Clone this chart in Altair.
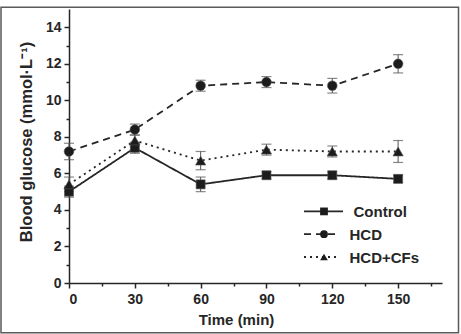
import altair as alt
import pandas as pd

# Sampling times (min) and blood glucose readings (mmol/L), mean and error
times = [0, 30, 60, 90, 120, 150]
series = ["Control", "HCD", "HCD+CFs"]
control = [5.0, 7.4, 5.4, 5.9, 5.9, 5.7]
control_err = [0.3, 0.3, 0.4, 0.2, 0.2, 0.2]
hcd = [7.2, 8.4, 10.8, 11.0, 10.8, 12.0]
hcd_err = [0.45, 0.3, 0.3, 0.3, 0.4, 0.5]
hcd_cfs = [5.4, 7.8, 6.7, 7.3, 7.2, 7.2]
hcd_cfs_err = [0.4, 0.3, 0.5, 0.3, 0.3, 0.6]

x_ticks = [0, 30, 60, 90, 120, 150]
x_minor = [15, 45, 75, 105, 135, 165]
y_ticks = [0, 2, 4, 6, 8, 10, 12, 14]
y_minor = [1, 3, 5, 7, 9, 11, 13]

dashes = [[1, 0], [7, 5], [2, 4]]
shapes = ["square", "circle", "triangle-up"]
sizes = [81, 105, 120]

FONT = "Liberation Sans"
INK = "#262626"
W, H = 373, 274

rows = []
for name, vals, errs in zip(series, [control, hcd, hcd_cfs],
                            [control_err, hcd_err, hcd_cfs_err]):
    for t, v, e in zip(times, vals, errs):
        rows.append({"time": t, "glucose": v, "err": e, "group": name})
df = pd.DataFrame(rows)

x_scale = alt.Scale(domain=[0, 170], nice=False, zero=False)
y_scale = alt.Scale(domain=[0, 15], nice=False)

axis_common = dict(
    domainColor=INK, domainWidth=1.5, tickColor=INK, tickWidth=1.5,
    labelFont=FONT, labelFontWeight="bold", labelFontSize=14, labelColor=INK,
    titleFont=FONT, titleFontWeight="bold", titleColor=INK,
    grid=False,
)

x_axis = alt.Axis(
    values=x_ticks, orient="bottom", tickSize=5, labelPadding=4,
    title="Time (min)", titleFontSize=15, titleX=167, titleY=41,
    titleAlign="center", titleBaseline="alphabetic", **axis_common,
)
y_axis = alt.Axis(
    values=y_ticks, orient="left", tickSize=5, labelPadding=3,
    title="Blood glucose (mmol·L⁻¹)", titleFontSize=16.5,
    titleX=-37.5, titleY=132.5,
    titleAngle=270, titleAlign="center", titleBaseline="alphabetic",
    **axis_common,
)
x_minor_axis = alt.Axis(
    values=x_minor, orient="bottom", tickSize=3, tickColor=INK, tickWidth=1.5,
    labels=False, domain=False, grid=False, title=None,
)
y_minor_axis = alt.Axis(
    values=y_minor, orient="left", tickSize=3, tickColor=INK, tickWidth=1.5,
    labels=False, domain=False, grid=False, title=None,
)

base = alt.Chart(df)

group_dash = alt.StrokeDash(
    "group:N", scale=alt.Scale(domain=series, range=dashes), legend=None
)
group_shape = alt.Shape(
    "group:N", scale=alt.Scale(domain=series, range=shapes), legend=None
)
group_size = alt.Size(
    "group:N", scale=alt.Scale(domain=series, range=sizes), legend=None
)

lines = base.mark_line(color=INK, strokeWidth=1.8).encode(
    x=alt.X("time:Q", scale=x_scale, axis=None),
    y=alt.Y("glucose:Q", scale=y_scale, axis=None),
    strokeDash=group_dash,
    detail="group:N",
)

bars = base.transform_calculate(
    lo="datum.glucose - datum.err", hi="datum.glucose + datum.err"
)
stems = bars.mark_rule(color="#555555", strokeWidth=1).encode(
    x=alt.X("time:Q", scale=x_scale, axis=None),
    y=alt.Y("lo:Q", scale=y_scale, axis=None),
    y2="hi:Q",
)
caps_lo = bars.mark_tick(
    color="#555555", orient="horizontal", size=10, thickness=1.2
).encode(
    x=alt.X("time:Q", scale=x_scale, axis=None),
    y=alt.Y("lo:Q", scale=y_scale, axis=None),
)
caps_hi = bars.mark_tick(
    color="#555555", orient="horizontal", size=10, thickness=1.2
).encode(
    x=alt.X("time:Q", scale=x_scale, axis=None),
    y=alt.Y("hi:Q", scale=y_scale, axis=None),
)

# Markers carry the main axes
markers = base.mark_point(
    filled=True, color="#1c1c1c", opacity=1, stroke="#555555", strokeWidth=0.6
).encode(
    x=alt.X("time:Q", scale=x_scale, axis=x_axis),
    y=alt.Y("glucose:Q", scale=y_scale, axis=y_axis),
    shape=group_shape,
    size=group_size,
)

# Invisible layer that only carries the minor tick axes
minor_ticks = base.mark_point(opacity=0).encode(
    x=alt.X("time:Q", scale=x_scale, axis=x_minor_axis),
    y=alt.Y("glucose:Q", scale=y_scale, axis=y_minor_axis),
)

# Figure frame around the whole panel
frame = alt.Chart(pd.DataFrame({"k": [0]})).mark_rect(
    fillOpacity=0, stroke="#5a5a5a", strokeWidth=1.5
).encode(
    x=alt.value(-68), x2=alt.value(389.5),
    y=alt.value(-1.8), y2=alt.value(323.8),
)

# Legend: line sample with centred marker and label, one row per group
legend_layers = []
leg_x0, leg_top, leg_step = 235, 202.4, 22.8
leg_len = [39, 35, 35]
for i, (name, dash, shape, ln) in enumerate(zip(series, dashes, shapes, leg_len)):
    ly = leg_top + i * leg_step
    x1 = leg_x0 + ln
    leg = alt.Chart(pd.DataFrame({"label": [name]}))
    legend_layers.append(
        leg.mark_rule(color=INK, strokeWidth=1.8, strokeDash=dash).encode(
            x=alt.value(leg_x0), x2=alt.value(x1), y=alt.value(ly)
        )
    )
    legend_layers.append(
        leg.mark_point(
            filled=True, color="#1c1c1c", opacity=1, shape=shape, size=60
        ).encode(x=alt.value(leg_x0 + 20), y=alt.value(ly))
    )
    legend_layers.append(
        leg.mark_text(
            align="left", baseline="middle", font=FONT, fontWeight="bold",
            fontSize=15, color=INK,
        ).encode(x=alt.value(x1 + 10.5), y=alt.value(ly + 0.5), text="label:N")
    )

chart = alt.layer(
    frame, lines, stems, caps_lo, caps_hi, markers, minor_ticks, *legend_layers
).resolve_axis(
    x="independent", y="independent"
).properties(
    width=W, height=H,
    autosize="none",
    padding={"left": 69, "top": 9, "right": 19, "bottom": 51},
    background="white",
).configure_view(stroke=None)

chart.save("out.html", embed_options={"renderer": "svg", "actions": False})
